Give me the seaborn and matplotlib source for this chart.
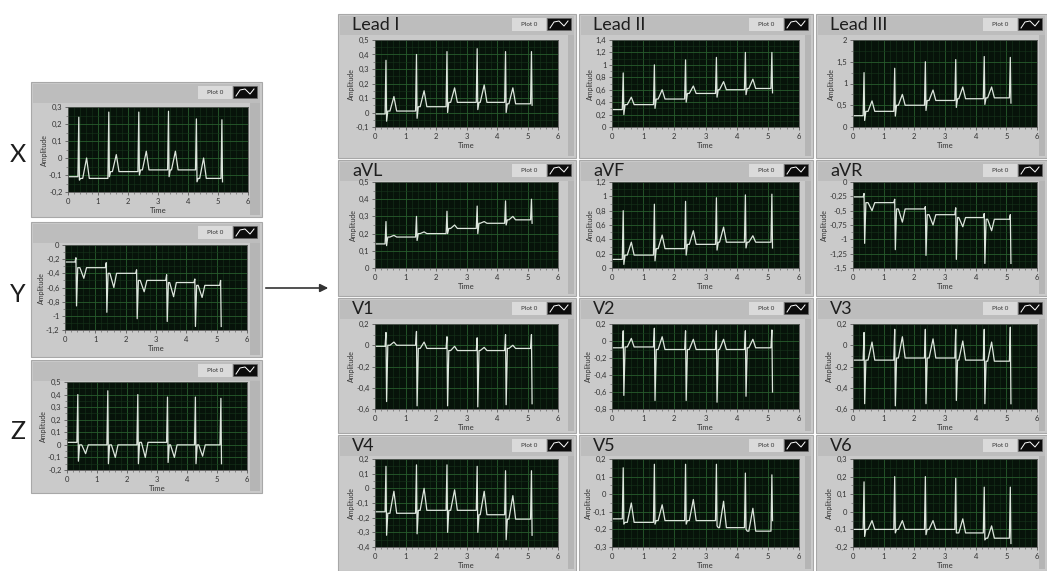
import matplotlib
matplotlib.use("Agg")
import matplotlib.pyplot as plt
import seaborn as sns
import pandas as pd
from matplotlib.patches import Rectangle
from matplotlib.ticker import MultipleLocator, AutoMinorLocator, FuncFormatter

plt.rcParams['font.family'] = ['Lato', 'DejaVu Sans']

# beat (QRS) times and T-wave times
beat_t = [0.36, 1.36, 2.36, 3.35, 4.28, 5.13]
t_wave = [0.62, 1.61, 2.61, 3.58, 4.52]

# per lead: baseline level before each beat, spike top, spike bottom, T-wave value
x_level = [-0.11, -0.12, -0.08, -0.07, -0.07, -0.12]
x_r = [0.24, 0.27, 0.27, 0.275, 0.23, 0.225]
x_s = [-0.13, -0.11, -0.10, -0.11, -0.14, -0.14]
x_t = [0.0, 0.02, 0.04, 0.04, 0.0]

y_level = [-0.24, -0.32, -0.40, -0.50, -0.53, -0.57]
y_r = [-0.18, -0.25, -0.35, -0.42, -0.48, -0.50]
y_s = [-0.86, -0.95, -1.04, -1.08, -1.15, -1.15]
y_t = [-0.47, -0.60, -0.66, -0.73, -0.74]

z_level = [0.02, 0.0, 0.0, 0.02, 0.0, 0.0]
z_r = [0.40, 0.43, 0.40, 0.38, 0.38, 0.37]
z_s = [-0.13, -0.15, -0.15, -0.14, -0.15, -0.15]
z_t = [-0.07, -0.10, -0.10, -0.10, -0.09]

l1_level = [-0.01, 0.01, 0.04, 0.07, 0.07, 0.06]
l1_r = [0.36, 0.40, 0.42, 0.44, 0.42, 0.42]
l1_s = [-0.06, -0.04, 0.0, 0.02, 0.0, 0.05]
l1_t = [0.11, 0.15, 0.17, 0.19, 0.17]

l2_level = [0.28, 0.36, 0.45, 0.54, 0.60, 0.62]
l2_r = [0.87, 1.00, 1.08, 1.12, 1.20, 1.20]
l2_s = [0.20, 0.30, 0.40, 0.48, 0.52, 0.55]
l2_t = [0.48, 0.60, 0.66, 0.73, 0.77]

l3_level = [0.26, 0.36, 0.50, 0.61, 0.65, 0.67]
l3_r = [1.25, 1.35, 1.50, 1.55, 1.62, 1.60]
l3_s = [0.15, 0.25, 0.38, 0.45, 0.52, 0.55]
l3_t = [0.60, 0.75, 0.85, 0.92, 0.92]

avl_level = [0.14, 0.18, 0.20, 0.23, 0.26, 0.28]
avl_r = [0.27, 0.30, 0.33, 0.36, 0.39, 0.40]
avl_s = [0.13, 0.16, 0.20, 0.20, 0.25, 0.26]
avl_t = [0.19, 0.21, 0.25, 0.27, 0.30]

avf_level = [0.12, 0.18, 0.27, 0.33, 0.36, 0.36]
avf_r = [0.80, 0.89, 0.93, 0.98, 1.02, 1.03]
avf_s = [0.05, 0.10, 0.18, 0.25, 0.28, 0.28]
avf_t = [0.36, 0.46, 0.52, 0.57, 0.45]

avr_level = [-0.26, -0.36, -0.47, -0.57, -0.62, -0.65]
avr_r = [-0.20, -0.30, -0.43, -0.45, -0.55, -0.57]
avr_s = [-1.07, -1.18, -1.28, -1.35, -1.42, -1.42]
avr_t = [-0.50, -0.70, -0.75, -0.78, -0.85]

v1_level = [-0.01, 0.0, -0.03, -0.05, -0.05, -0.03]
v1_r = [0.12, 0.13, 0.08, 0.07, 0.10, 0.10]
v1_s = [-0.53, -0.57, -0.57, -0.58, -0.56, -0.55]
v1_t = [0.03, 0.03, -0.01, -0.02, 0.0]

v2_level = [-0.08, -0.07, -0.10, -0.10, -0.10, -0.08]
v2_r = [0.12, 0.15, 0.12, 0.12, 0.12, 0.13]
v2_s = [-0.64, -0.70, -0.70, -0.72, -0.65, -0.60]
v2_t = [0.03, 0.05, 0.02, 0.02, 0.02]

v3_level = [-0.14, -0.14, -0.12, -0.12, -0.14, -0.15]
v3_r = [0.12, 0.15, 0.15, 0.15, 0.15, 0.17]
v3_s = [-0.55, -0.57, -0.55, -0.52, -0.55, -0.55]
v3_t = [0.03, 0.08, 0.06, 0.04, 0.03]

v4_level = [-0.16, -0.17, -0.15, -0.15, -0.18, -0.21]
v4_r = [0.15, 0.16, 0.16, 0.15, 0.12, 0.12]
v4_s = [-0.32, -0.31, -0.30, -0.30, -0.35, -0.32]
v4_t = [-0.02, 0.0, -0.01, -0.02, -0.05]

v5_level = [-0.14, -0.16, -0.15, -0.15, -0.19, -0.21]
v5_r = [0.15, 0.17, 0.17, 0.17, 0.12, 0.11]
v5_s = [-0.17, -0.17, -0.17, -0.18, -0.20, -0.15]
v5_t = [-0.05, -0.06, -0.03, -0.04, -0.08]

v6_level = [-0.10, -0.10, -0.10, -0.10, -0.12, -0.15]
v6_r = [0.17, 0.20, 0.20, 0.19, 0.14, 0.14]
v6_s = [-0.14, -0.12, -0.13, -0.12, -0.16, -0.18]
v6_t = [-0.05, -0.05, -0.05, -0.04, -0.08]

# (name, level, r, s, t, ymin, ymax, ystep)
left_leads = [
    ("X", x_level, x_r, x_s, x_t, -0.2, 0.3, 0.1),
    ("Y", y_level, y_r, y_s, y_t, -1.2, 0.0, 0.2),
    ("Z", z_level, z_r, z_s, z_t, -0.2, 0.5, 0.1),
]
right_leads = [
    ("Lead I", l1_level, l1_r, l1_s, l1_t, -0.1, 0.5, 0.1),
    ("Lead II", l2_level, l2_r, l2_s, l2_t, 0.0, 1.4, 0.2),
    ("Lead III", l3_level, l3_r, l3_s, l3_t, 0.0, 2.0, 0.5),
    ("aVL", avl_level, avl_r, avl_s, avl_t, 0.0, 0.5, 0.1),
    ("aVF", avf_level, avf_r, avf_s, avf_t, 0.0, 1.2, 0.2),
    ("aVR", avr_level, avr_r, avr_s, avr_t, -1.5, 0.0, 0.25),
    ("V1", v1_level, v1_r, v1_s, v1_t, -0.6, 0.2, 0.2),
    ("V2", v2_level, v2_r, v2_s, v2_t, -0.8, 0.2, 0.2),
    ("V3", v3_level, v3_r, v3_s, v3_t, -0.6, 0.2, 0.2),
    ("V4", v4_level, v4_r, v4_s, v4_t, -0.4, 0.2, 0.1),
    ("V5", v5_level, v5_r, v5_s, v5_t, -0.3, 0.2, 0.1),
    ("V6", v6_level, v6_r, v6_s, v6_t, -0.2, 0.3, 0.1),
]

W, H = 1047, 571
fig = plt.figure(figsize=(W / 100, H / 100), dpi=100)
fig.patch.set_facecolor("white")
bg = fig.add_axes([0, 0, 1, 1])
bg.set_xlim(0, W)
bg.set_ylim(H, 0)
bg.axis("off")


def trace(level, r, s, tw):
    pts = [(0.0, level[0])]
    for i, tb in enumerate(beat_t):
        pts.append((tb - 0.03, level[i]))
        pts.append((tb, r[i]))
        pts.append((tb + 0.02, s[i]))
        if i < len(tw):
            nxt = level[i + 1]
            pts += [(tb + 0.06, nxt), (t_wave[i] - 0.13, nxt),
                    (t_wave[i], tw[i]), (t_wave[i] + 0.09, nxt)]
    return pd.DataFrame(pts, columns=["Time", "Amplitude"])


def frame(l, t, r, b, title=None, strip=6):
    bg.add_patch(Rectangle((l, t), r - l, b - t, fc="#cacaca", ec="#a8a8a8", lw=0.8))
    bg.add_patch(Rectangle((l + 2, t + 2), r - l - 4, 19, fc="#bdbdbd", ec="none"))
    bg.add_patch(Rectangle((r - strip - 2, t + 21), strip, b - t - 23, fc="#b5b5b5", ec="none"))
    bg.add_patch(Rectangle((r - 64, t + 4), 34, 13, fc="#dadada", ec="none"))
    bg.text(r - 47, t + 10.5, "Plot 0", fontsize=4.5, ha="center", va="center", color="#333")
    bg.add_patch(Rectangle((r - 29, t + 4), 24, 12, fc="#0c0c0c", ec="#666", lw=0.5))
    bg.plot([r - 26, r - 22, r - 17, r - 12, r - 8],
            [t + 14, t + 8, t + 7, t + 12, t + 7], color="white", lw=0.7)
    if title:
        bg.text(l + 14, t + 11, title, fontsize=13, ha="left", va="center", color="#1e1e1e")


def comma(v, pos):
    return f"{round(v, 2):g}".replace(".", ",")


def panel(rect, lead):
    name, level, r, s, tw, ymin, ymax, ystep = lead
    l, t, rr, b = rect
    ax = fig.add_axes([l / W, 1 - b / H, (rr - l) / W, (b - t) / H])
    ax.set_facecolor("#07130a")
    df = trace(level, r, s, tw)
    sns.lineplot(data=df, x="Time", y="Amplitude", ax=ax, color="#dde6dd",
                 lw=0.9, sort=False, estimator=None)
    ax.set_xlim(0, 6)
    ax.set_ylim(ymin, ymax)
    ax.xaxis.set_major_locator(MultipleLocator(1))
    ax.yaxis.set_major_locator(MultipleLocator(ystep))
    ax.xaxis.set_minor_locator(AutoMinorLocator(5))
    ax.yaxis.set_minor_locator(AutoMinorLocator(2))
    ax.xaxis.set_major_formatter(FuncFormatter(comma))
    ax.yaxis.set_major_formatter(FuncFormatter(comma))
    ax.grid(which="major", color="#285c2d", lw=0.6)
    ax.grid(which="minor", color="#17351b", lw=0.4)
    ax.set_axisbelow(True)
    ax.tick_params(which="major", labelsize=5.5, length=2.5, width=0.5,
                   pad=1.5, colors="#444", labelcolor="#333")
    ax.tick_params(which="minor", length=1.2, width=0.4, colors="#555")
    ax.set_xlabel("Time", fontsize=5.5, labelpad=1.5, color="#333")
    ax.set_ylabel("Amplitude", fontsize=5, labelpad=1, color="#333")
    for sp in ax.spines.values():
        sp.set_color("#555")
        sp.set_linewidth(0.6)
    return ax


# left column: X, Y, Z
left_frames = [(31, 82, 262, 217), (31, 222, 262, 357), (31, 360, 262, 493)]
left_plots = [(68, 107, 248, 192), (65, 245, 247, 330), (67, 382, 247, 470)]
for fr, pr, lead in zip(left_frames, left_plots, left_leads):
    frame(*fr, strip=10)
    panel(pr, lead)
    bg.text(18, (fr[1] + fr[3]) / 2 + 5, lead[0], fontsize=18, ha="center",
            va="center", color="#1e1e1e")

# arrow to the 12-lead grid
bg.annotate("", xy=(331, 288), xytext=(263, 288),
            arrowprops=dict(arrowstyle="-|>", color="#333", lw=1.2,
                            mutation_scale=12))

# right 4x3 grid
col_frames = [(338, 576), (579, 813), (816, 1047)]
row_frames = [(14, 158), (160, 296), (298, 433), (435, 571)]
col_plots = [(375, 558), (612, 799), (853, 1037)]
row_plots = [(40, 127), (182, 268), (324, 409), (459, 547)]
for k, lead in enumerate(right_leads):
    ri, ci = divmod(k, 3)
    frame(col_frames[ci][0], row_frames[ri][0], col_frames[ci][1], row_frames[ri][1],
          title=lead[0])
    panel((col_plots[ci][0], row_plots[ri][0], col_plots[ci][1], row_plots[ri][1]), lead)

fig.savefig("out.png", dpi=100, facecolor="white")
